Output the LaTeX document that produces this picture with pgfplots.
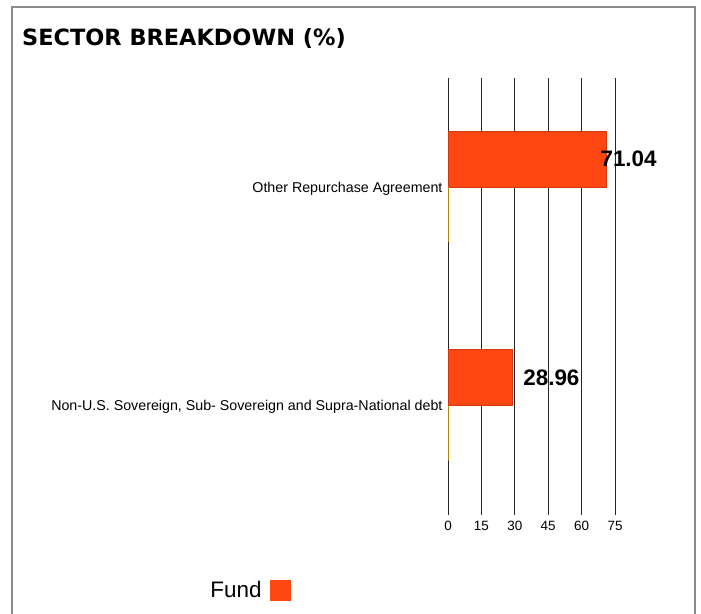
\documentclass[border=0pt]{standalone}
\usepackage{fontspec}
\setmainfont{Liberation Sans}
\newfontfamily\titlefont{DejaVu Sans}
\usepackage{pgfplots}
\pgfplotsset{compat=1.18}
\definecolor{fundorange}{HTML}{FF4713}
\definecolor{fundedge}{HTML}{D03A0C}
\definecolor{benchyellow}{HTML}{E8B000}
\definecolor{framegray}{HTML}{8C8C8C}
\pgfplotstableread{
y x shift
1 71.04 -6
0 28.96 10.5
}\funddata
\begin{document}
\begin{tikzpicture}[x=1bp,y=1bp]
\useasboundingbox (0,0) rectangle (701,614);
\draw[framegray, line width=2bp] (12,-5) -- (12,607) -- (695,607) -- (695,-5);
\node[anchor=base west, inner sep=0, font=\titlefont\bfseries\fontsize{22.5}{22.5}\selectfont] at (22,614-46) {SECTOR BREAKDOWN (\%)};
\begin{axis}[
  at={(448bp,99bp)}, anchor=south west,
  scale only axis, width=167bp, height=437bp,
  xmin=0, xmax=75, ymin=-0.5, ymax=1.5,
  xtick={0,15,30,45,60,75},
  ytick={0,1},
  yticklabels={{Non-U.S. Sovereign, Sub- Sovereign and Supra-National debt},{Other Repurchase Agreement}},
  axis line style={draw=none},
  major tick length=0,
  xmajorgrids,
  grid style={black!85, line width=0.8bp},
  /pgf/number format/assume math mode=true,
  xticklabel style={font=\fontsize{13.5}{13.5}\selectfont, yshift=-3bp},
  yticklabel style={font=\fontsize{14.3}{14.3}\selectfont, xshift=-2bp, yshift=-1.5bp},
  legend plot pos=right,
  legend style={at={(axis description cs:-1.187,-0.172)}, anchor=center, draw=none, fill=none,
    font=\fontsize{22.5}{22.5}\selectfont},
  legend image code/.code={\path (0bp,0bp); \fill[fundorange] (7bp,-10bp) rectangle (27bp,10bp);},
]
\addplot[xbar, bar width=56bp, bar shift=28bp, fill=fundorange, draw=fundedge, line width=0.7bp,
  nodes near coords, point meta=explicit symbolic,
  visualization depends on={\thisrow{shift} \as \myshift},
  nodes near coords style={anchor=west, inner sep=0, xshift=\myshift bp, yshift=28bp,
    font=\bfseries\fontsize{22.5}{22.5}\selectfont, text=black}]
  table[x=x, y=y, meta=x] {\funddata};
\addlegendentry{Fund}
\addplot[xbar, bar width=55bp, bar shift=-27.5bp, fill=benchyellow, draw=benchyellow, line width=0.8bp, forget plot]
  coordinates {(0,1) (0,0)};
\end{axis}
\end{tikzpicture}
\end{document}
